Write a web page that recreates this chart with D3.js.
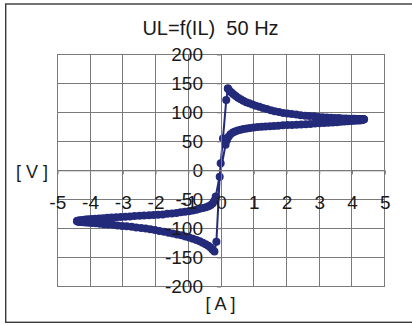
<!DOCTYPE html>
<html>
<head>
<meta charset="utf-8">
<script src="https://cdn.jsdelivr.net/npm/d3@7"></script>
<style>
  html, body { margin: 0; padding: 0; background: #fff; }
  svg { display: block; }
  text { font-family: "Liberation Sans", Arial, sans-serif; fill: #1a1a1a; white-space: pre; }
</style>
</head>
<body>
<svg id="chart" width="412" height="325"></svg>
<script>
// Axis ticks
const xTicks = [-5, -4, -3, -2, -1, 0, 1, 2, 3, 4, 5];
const yTicks = [-200, -150, -100, -50, 0, 50, 100, 150, 200];

// Measured loop, in the order it was sampled: current IL [A], voltage UL [V]
// Positive peak outwards to maximum current
const upperRightI = [0.21, 0.26, 0.32, 0.38, 0.45, 0.52, 0.6, 0.68, 0.77, 0.86, 0.96, 1.06, 1.17, 1.28, 1.4, 1.52, 1.64, 1.77, 1.9, 2.03, 2.16, 2.3, 2.43, 2.57, 2.7, 2.84, 2.97, 3.1, 3.23, 3.36, 3.48, 3.6, 3.71, 3.82, 3.92, 4.01, 4.09, 4.16, 4.22, 4.27, 4.31, 4.34, 4.36, 4.37];
const upperRightU = [141, 137, 134, 131, 128, 125, 122.5, 120, 117.5, 115.5, 113.5, 111.5, 109.5, 107.5, 105.5, 103.5, 102, 100.5, 99, 98, 97, 96, 95, 94, 93.5, 93, 92, 91.5, 91, 90.5, 90, 90, 89.5, 89.5, 89, 89, 89, 88.5, 88.5, 88.5, 88, 88, 88, 88];
// Back from maximum current towards zero
const lowerRightI = [4.35, 4.32, 4.28, 4.22, 4.15, 4.07, 3.98, 3.88, 3.77, 3.66, 3.54, 3.41, 3.28, 3.15, 3.01, 2.87, 2.73, 2.59, 2.45, 2.31, 2.17, 2.03, 1.89, 1.75, 1.62, 1.49, 1.36, 1.24, 1.12, 1.0, 0.89, 0.79, 0.69, 0.6, 0.51, 0.43, 0.36, 0.29, 0.23, 0.18, 0.14];
const lowerRightU = [87.5, 87, 86.5, 86, 86, 85.5, 85, 84.5, 84, 83.5, 83, 82.5, 82, 81.5, 81, 80.5, 80, 79.5, 79, 78.5, 78, 78, 77.5, 77, 76.5, 76, 75.5, 75, 74.5, 74, 73, 72, 71, 70, 68.5, 67, 65, 62, 58, 52, 44];
// Negative half: outwards to minimum current
const upperLeftI = [-0.16, -0.2, -0.25, -0.31, -0.38, -0.46, -0.55, -0.65, -0.75, -0.86, -0.98, -1.1, -1.23, -1.36, -1.5, -1.64, -1.78, -1.92, -2.06, -2.2, -2.35, -2.49, -2.64, -2.78, -2.92, -3.06, -3.2, -3.34, -3.47, -3.6, -3.72, -3.84, -3.95, -4.05, -4.14, -4.22, -4.29, -4.34, -4.38, -4.4];
const upperLeftU = [-45, -52, -57, -60, -62, -63.5, -65, -66.5, -68, -69.5, -70.5, -71.5, -72.5, -73.5, -74.5, -75, -76, -76.5, -77, -77.5, -78, -78.5, -79, -79.5, -80, -80.5, -81, -81.5, -82, -82.5, -83, -83.5, -84, -84.5, -85, -85.5, -86, -86.5, -87, -87.5];
// Back from minimum current to the negative peak
const lowerLeftI = [-4.39, -4.36, -4.32, -4.27, -4.2, -4.12, -4.03, -3.93, -3.82, -3.7, -3.57, -3.44, -3.3, -3.16, -3.02, -2.88, -2.73, -2.59, -2.44, -2.3, -2.16, -2.02, -1.88, -1.74, -1.6, -1.47, -1.34, -1.21, -1.09, -0.97, -0.86, -0.75, -0.65, -0.56, -0.47, -0.39, -0.32, -0.26, -0.2];
const lowerLeftU = [-88, -88.5, -89, -89, -89.5, -90, -90.5, -91, -91.5, -92, -93, -93.5, -94, -95, -96, -96.5, -97.5, -98.5, -99.5, -100.5, -101.5, -103, -104.5, -106, -107.5, -109, -110.5, -112, -114, -116, -118, -120, -122.5, -125, -127.5, -130, -133, -136.5, -140];
// Fast swing through zero back up to the positive peak
const risingI = [-0.14, -0.04, -0.01, 0.06, 0.16, 0.21];
const risingU = [-123, -11, 12, 55, 121, 141];

const currentA = [].concat(upperRightI, lowerRightI, upperLeftI, lowerLeftI, risingI);
const voltageV = [].concat(upperRightU, lowerRightU, upperLeftU, lowerLeftU, risingU);
const points = currentA.map((c, i) => ({ i: c, u: voltageV[i] }));

const svg = d3.select("#chart");
const navy = "#242a7a";
const gridColor = "#7a7a7a";

const x = d3.scaleLinear().domain([-5, 5]).range([57.3, 384.7]);
const y = d3.scaleLinear().domain([-200, 200]).range([286.3, 54.3]);

// Outer frame
svg.append("rect")
  .attr("x", 5.7).attr("y", 4)
  .attr("width", 420).attr("height", 318.3)
  .attr("fill", "#fff")
  .attr("stroke", "#3a3a3a").attr("stroke-width", 1.4);

// Title
svg.append("text")
  .attr("x", 210.5).attr("y", 35)
  .attr("text-anchor", "middle")
  .attr("font-size", 20)
  .attr("xml:space", "preserve")
  .text("UL=f(IL)  50 Hz");

// Grid
const grid = svg.append("g").attr("stroke", gridColor).attr("stroke-width", 1).attr("shape-rendering", "crispEdges");
grid.selectAll("line.v").data(xTicks).join("line")
  .attr("class", "v")
  .attr("x1", d => x(d)).attr("x2", d => x(d))
  .attr("y1", y(200)).attr("y2", y(-200));
grid.selectAll("line.h").data(yTicks).join("line")
  .attr("class", "h")
  .attr("x1", x(-5)).attr("x2", x(5))
  .attr("y1", d => y(d)).attr("y2", d => y(d));
grid.append("rect")
  .attr("x", x(-5)).attr("y", y(200))
  .attr("width", x(5) - x(-5)).attr("height", y(-200) - y(200))
  .attr("fill", "none");

// Series: line then markers
svg.append("path")
  .datum(points)
  .attr("fill", "none")
  .attr("stroke", navy)
  .attr("stroke-width", 2)
  .attr("stroke-linejoin", "round")
  .attr("d", d3.line().x(d => x(d.i)).y(d => y(d.u)));

svg.append("g").selectAll("circle").data(points).join("circle")
  .attr("cx", d => x(d.i))
  .attr("cy", d => y(d.u))
  .attr("r", 4)
  .attr("fill", navy);

// Axes crossing at the origin
const yAxis = svg.append("g")
  .attr("transform", `translate(${x(0)},0)`)
  .call(d3.axisLeft(y).tickValues(yTicks).tickSize(4).tickPadding(14).tickFormat(d => String(d)));
const xAxis = svg.append("g")
  .attr("transform", `translate(0,${y(0)})`)
  .call(d3.axisBottom(x).tickValues(xTicks).tickSize(4).tickPadding(21).tickFormat(d => String(d)));

[yAxis, xAxis].forEach(ax => {
  ax.select(".domain").attr("stroke", gridColor);
  ax.selectAll(".tick line").attr("stroke", gridColor);
  ax.selectAll(".tick text")
    .attr("font-size", 19)
    .attr("font-family", "\"Liberation Sans\", Arial, sans-serif")
    .attr("fill", "#1a1a1a");
});

// Axis titles
svg.append("text")
  .attr("x", 32).attr("y", 178)
  .attr("text-anchor", "middle")
  .attr("font-size", 18)
  .attr("xml:space", "preserve")
  .text("[ V ]");
svg.append("text")
  .attr("x", 220.5).attr("y", 310)
  .attr("text-anchor", "middle")
  .attr("font-size", 18)
  .attr("xml:space", "preserve")
  .text("[ A ]");
</script>
</body>
</html>
